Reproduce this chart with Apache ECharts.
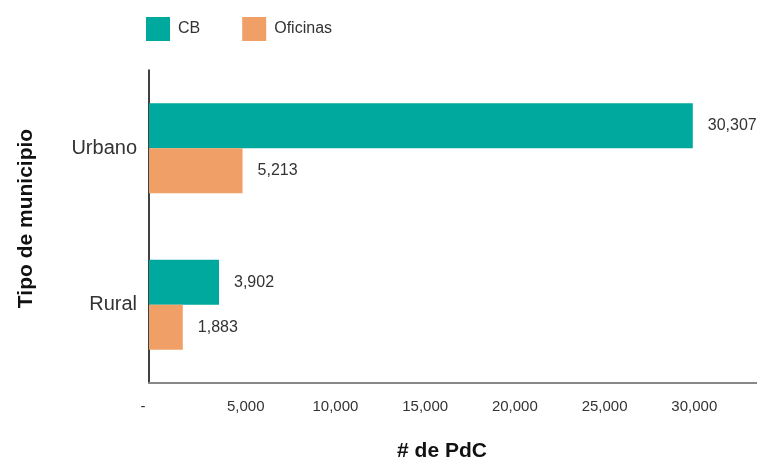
<!DOCTYPE html>
<html><head><meta charset="utf-8">
<script src="https://cdn.jsdelivr.net/npm/echarts@6/dist/echarts.min.js"></script>
<style>html,body{margin:0;padding:0;background:#fff}#c{width:757px;height:459px}</style>
</head><body><div id="c"></div>
<script>
const categories = ['Urbano', 'Rural'];
const cbValues = [30307, 3902];
const oficinasValues = [5213, 1883];
const seriesNames = ['CB', 'Oficinas'];
const xTicks = [0, 5000, 10000, 15000, 20000, 25000, 30000, 35000];

const FONT = "'Liberation Sans', Arial, sans-serif";
const fmt = v => v.toLocaleString('en-US');
const chart = echarts.init(document.getElementById('c'), null, {renderer: 'canvas'});
chart.setOption({
  animation: false,
  textStyle: {fontFamily: FONT},
  legend: {
    left: 141, top: 12, itemWidth: 24, itemHeight: 24, itemGap: 42,
    icon: 'rect',
    textStyle: {fontFamily: FONT, fontSize: 16, color: '#333', padding: [0, 0, 0, 3]},
    data: seriesNames
  },
  grid: {left: 149, top: 70, width: 628, height: 313, containLabel: false, outerBoundsMode: 'none'},
  xAxis: {
    type: 'value', min: xTicks[0], max: xTicks[xTicks.length - 1], interval: 5000,
    name: '# de PdC', nameLocation: 'middle', nameGap: 58,
    nameTextStyle: {fontFamily: FONT, fontSize: 21, fontWeight: 'bold', color: '#111', padding: [0, 42, 0, 0]},
    splitLine: {show: false},
    axisTick: {show: false},
    axisLine: {show: true, lineStyle: {color: '#888', width: 2}},
    axisLabel: {
      margin: 16, color: '#333', fontSize: 15, fontFamily: FONT,
      formatter: v => v === 0 ? '{d|-}' : (v > 30000 ? '' : '{n|' + fmt(v) + '}'),
      rich: {
        d: {padding: [0, 12, 0, 0], fontSize: 15, fontFamily: FONT, color: '#333'},
        n: {padding: [0, 0, 0, 14], fontSize: 15, fontFamily: FONT, color: '#333'}
      }
    }
  },
  yAxis: {
    type: 'category', data: categories, inverse: true,
    name: 'Tipo de municipio', nameLocation: 'middle', nameGap: 112, nameRotate: 90,
    nameTextStyle: {fontFamily: FONT, fontSize: 21, fontWeight: 'bold', color: '#111', padding: [0, 0, 0, 16]},
    axisTick: {show: false},
    axisLine: {show: true, lineStyle: {color: '#000', width: 1.5}},
    axisLabel: {margin: 12, fontSize: 20, color: '#333', fontFamily: FONT}
  },
  series: [
    {name: seriesNames[0], type: 'bar', data: cbValues, barWidth: 45, barGap: '0%',
     itemStyle: {color: '#00A99D'},
     label: {show: true, position: 'right', distance: 15, fontSize: 16, color: '#333', fontFamily: FONT, formatter: p => fmt(p.value)}},
    {name: seriesNames[1], type: 'bar', data: oficinasValues, barWidth: 45, barGap: '0%',
     itemStyle: {color: '#F0A066'},
     label: {show: true, position: 'right', distance: 15, fontSize: 16, color: '#333', fontFamily: FONT, formatter: p => fmt(p.value)}}
  ]
});
</script></body></html>
